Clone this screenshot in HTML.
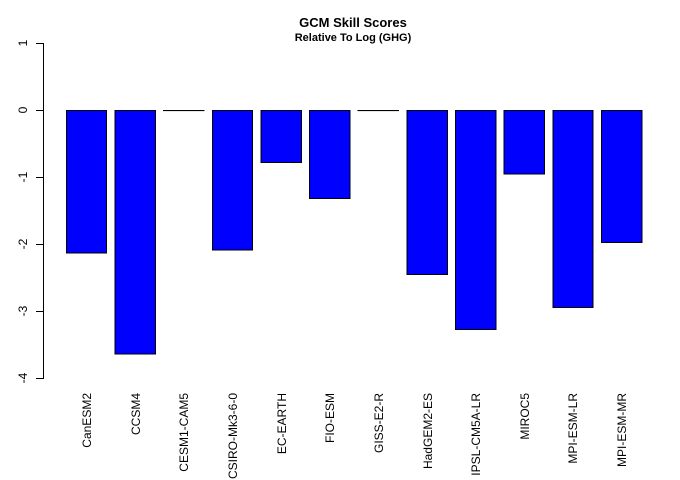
<!DOCTYPE html>
<html><head><meta charset="utf-8"><style>
body{margin:0;background:#fff}
svg{display:block;font-family:"Liberation Sans",Arial,sans-serif}
</style></head><body>
<svg width="680" height="480" viewBox="0 0 680 480">
<text x="353" y="27" text-anchor="middle" font-size="13" font-weight="bold">GCM Skill Scores</text>
<text x="353" y="41" text-anchor="middle" font-size="11" font-weight="bold">Relative To Log (GHG)</text>
<g stroke="#000" stroke-width="1">
<line x1="43.5" y1="43" x2="43.5" y2="379"/>
<line x1="36" y1="43.5" x2="43.5" y2="43.5"/>
<line x1="36" y1="110.5" x2="43.5" y2="110.5"/>
<line x1="36" y1="177.5" x2="43.5" y2="177.5"/>
<line x1="36" y1="244.5" x2="43.5" y2="244.5"/>
<line x1="36" y1="311.5" x2="43.5" y2="311.5"/>
<line x1="36" y1="378.5" x2="43.5" y2="378.5"/>
</g>
<g font-size="12" text-anchor="middle">
<text transform="translate(27,43) rotate(-90)">1</text>
<text transform="translate(27,110) rotate(-90)">0</text>
<text transform="translate(27,177) rotate(-90)">-1</text>
<text transform="translate(27,244) rotate(-90)">-2</text>
<text transform="translate(27,311) rotate(-90)">-3</text>
<text transform="translate(27,378) rotate(-90)">-4</text>
</g>
<g fill="#0000ff" stroke="#000" stroke-width="1">
<rect x="66.5" y="110.5" width="40" height="142.5"/>
<rect x="115" y="110.5" width="40.5" height="243.5"/>
<rect x="163.5" y="110.5" width="40.5" height="0.1"/>
<rect x="212.5" y="110.5" width="40" height="139.5"/>
<rect x="261" y="110.5" width="40.5" height="52"/>
<rect x="309.5" y="110.5" width="40.5" height="88"/>
<rect x="358" y="110.5" width="40.5" height="0.1"/>
<rect x="407" y="110.5" width="40.5" height="164"/>
<rect x="455.5" y="110.5" width="40.5" height="219"/>
<rect x="504" y="110.5" width="40.5" height="63.5"/>
<rect x="553" y="110.5" width="40" height="197"/>
<rect x="601.5" y="110.5" width="40.5" height="132"/>
</g>
<g font-size="12" text-anchor="end">
<text transform="translate(91,393) rotate(-90)">CanESM2</text>
<text transform="translate(140,393) rotate(-90)">CCSM4</text>
<text transform="translate(188,393) rotate(-90)">CESM1-CAM5</text>
<text transform="translate(237,393) rotate(-90)">CSIRO-Mk3-6-0</text>
<text transform="translate(286,393) rotate(-90)">EC-EARTH</text>
<text transform="translate(334,393) rotate(-90)">FIO-ESM</text>
<text transform="translate(383,393) rotate(-90)">GISS-E2-R</text>
<text transform="translate(432,393) rotate(-90)">HadGEM2-ES</text>
<text transform="translate(480,393) rotate(-90)">IPSL-CM5A-LR</text>
<text transform="translate(529,393) rotate(-90)">MIROC5</text>
<text transform="translate(577,393) rotate(-90)">MPI-ESM-LR</text>
<text transform="translate(626,393) rotate(-90)">MPI-ESM-MR</text>
</g>
</svg>
</body></html>
